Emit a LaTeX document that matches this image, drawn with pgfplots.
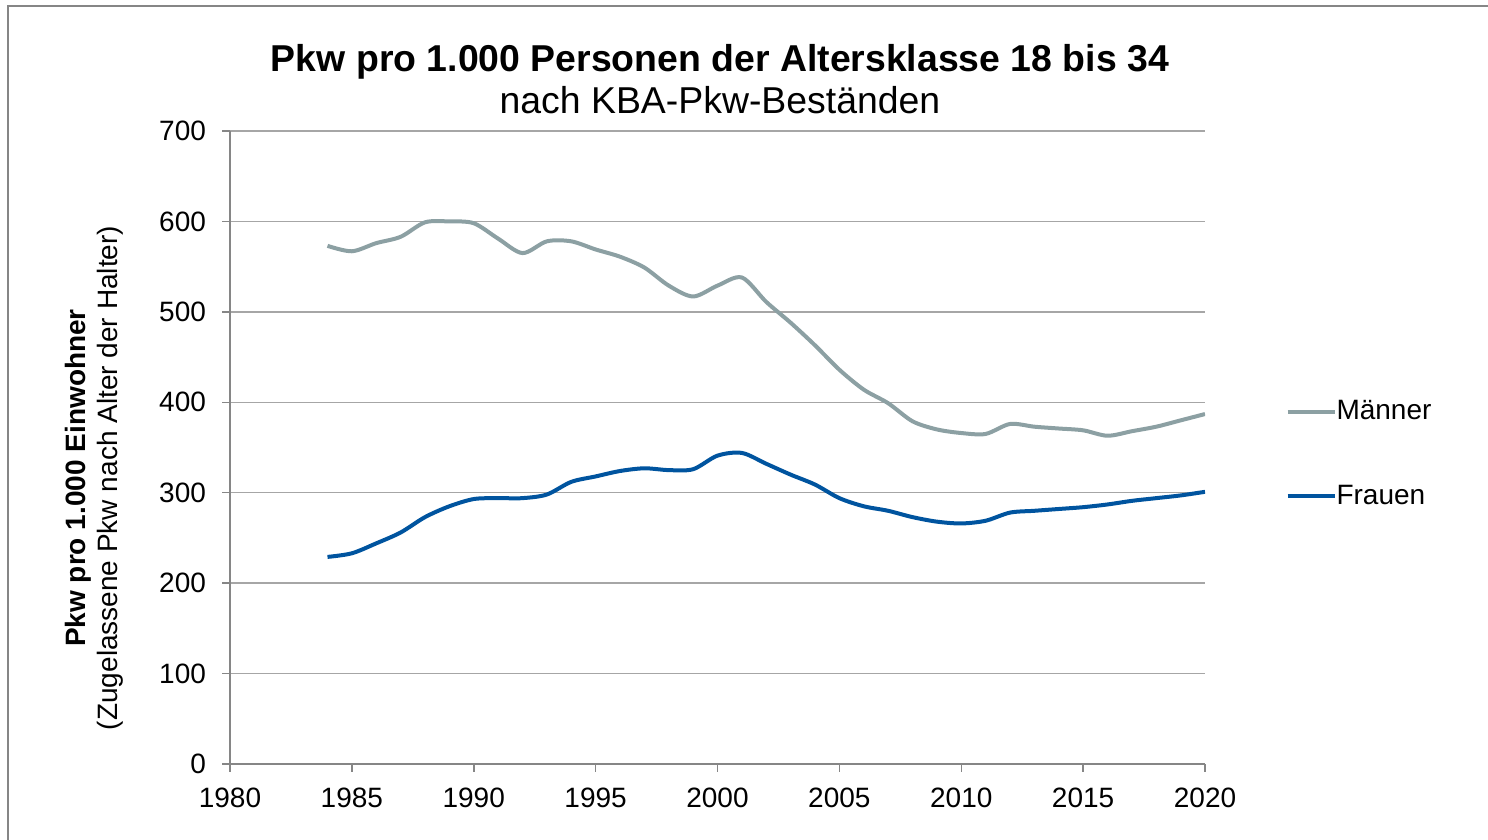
\documentclass[border=0pt]{standalone}
\usepackage{pgfplots}
\pgfplotsset{compat=1.18}
\usepackage{fontspec}
\setmainfont{Liberation Sans}

\definecolor{maenner}{RGB}{140,160,163}
\definecolor{frauen}{RGB}{0,84,159}
\definecolor{gridgray}{RGB}{166,166,166}
\definecolor{axisgray}{RGB}{134,134,134}

\begin{document}
\begin{tikzpicture}
\useasboundingbox (0,0) rectangle (744pt,420pt);
\draw[axisgray, line width=0.8pt] (4pt,-2pt) -- (4pt,417pt) -- (746pt,417pt);

\begin{axis}[
    at={(115pt,38pt)}, anchor=south west,
    scale only axis,
    width=487.5pt, height=316.5pt,
    xmin=1980, xmax=2020, ymin=0, ymax=700,
    xtick={1980,1985,...,2020},
    ytick={0,100,...,700},
    axis x line*=bottom, axis y line*=left,
    axis line style={axisgray, line width=0.75pt},
    tick style={axisgray, line width=0.75pt},
    tick align=outside,
    major tick length=4pt,
    ymajorgrids,
    grid style={gridgray, line width=0.75pt},
    tick label style={font=\fontsize{14}{16}\selectfont},
    /pgf/number format/assume math mode=true,
    /pgf/number format/1000 sep={},
    xticklabel style={yshift=-4.5pt},
    yticklabel style={xshift=-4.5pt},
    legend style={at={(1.076,0.49)}, anchor=west, draw=none, fill=none,
        font=\fontsize{14}{16}\selectfont, row sep=27pt,
        /tikz/every odd column/.append style={column sep=-2pt}},
    legend cell align=left,
    legend image code/.code={\draw[#1] (0pt,0pt) -- (23.5pt,0pt);},
]
\addplot[maenner, line width=2pt, smooth, tension=0.5] coordinates {
(1984,573) (1985,567) (1986,576) (1987,583) (1988,599) (1989,600)
(1990,598) (1991,581) (1992,565) (1993,578) (1994,578) (1995,569)
(1996,561) (1997,549) (1998,529) (1999,517) (2000,529) (2001,538)
(2002,511) (2003,488) (2004,463) (2005,436) (2006,414) (2007,399)
(2008,379) (2009,370) (2010,366) (2011,365) (2012,376) (2013,373)
(2014,371) (2015,369) (2016,363) (2017,368) (2018,373) (2019,380)
(2020,387)};
\addlegendentry{Männer}
\addplot[frauen, line width=2pt, smooth, tension=0.5] coordinates {
(1984,229) (1985,233) (1986,244) (1987,256) (1988,273) (1989,285)
(1990,293) (1991,294) (1992,294) (1993,298) (1994,312) (1995,318)
(1996,324) (1997,327) (1998,325) (1999,326) (2000,341) (2001,344)
(2002,332) (2003,320) (2004,309) (2005,294) (2006,285) (2007,280)
(2008,273) (2009,268) (2010,266) (2011,269) (2012,278) (2013,280)
(2014,282) (2015,284) (2016,287) (2017,291) (2018,294) (2019,297)
(2020,301)};
\addlegendentry{Frauen}
\end{axis}

\node[align=center, font=\fontsize{14}{16}\selectfont, rotate=90]
  at (47pt,181pt) {\textbf{Pkw pro 1.000 Einwohner}\\(Zugelassene Pkw nach Alter der Halter)};
\node[align=center, font=\fontsize{18.7}{21}\selectfont]
  at (360pt,380.5pt) {\textbf{Pkw pro 1.000 Personen der Altersklasse 18 bis 34}\\nach KBA-Pkw-Beständen};
\end{tikzpicture}
\end{document}
